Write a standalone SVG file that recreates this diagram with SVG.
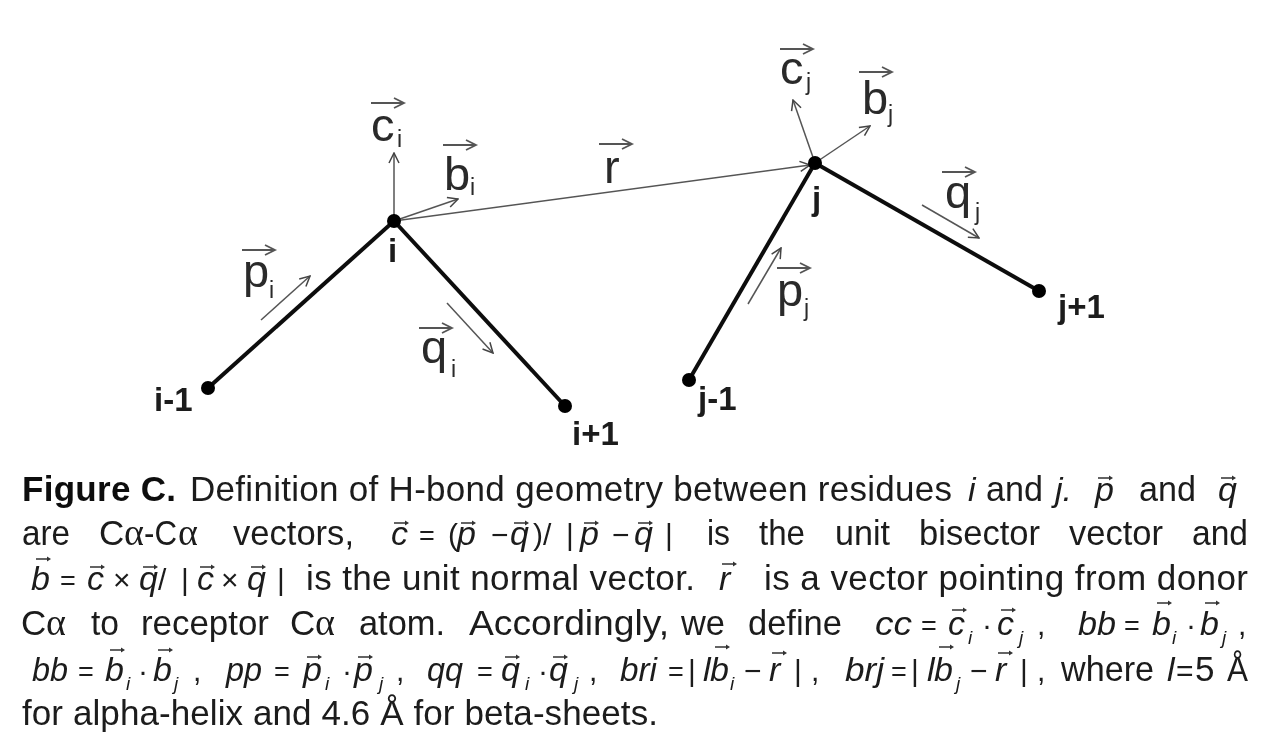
<svg xmlns="http://www.w3.org/2000/svg" xmlns:xlink="http://www.w3.org/1999/xlink" width="1267" height="754" viewBox="0 0 1267 754">
<style>
text{font-family:"Liberation Sans",Arial,sans-serif;fill:#1a1a1a}
.n{font-size:33px;font-weight:700}
.v{font-size:47px;fill:#2a2a2a}
.vs{font-size:23px;fill:#2a2a2a}
.c{font-size:35px}
.b{font-size:35px;font-weight:700;fill:#111}
.m{font-size:34px;font-style:italic}
.e{font-size:27px}
.d{font-size:30px}
.u{font-size:19px;font-style:italic}
.g{font-family:"Liberation Serif",serif;font-size:38px}
.bond{stroke:#111;stroke-width:4;fill:none}
.arr{stroke:#555;stroke-width:1.5;fill:none;marker-end:url(#h)}
.over{stroke:#555;stroke-width:1.8;fill:none}
.dot{fill:#000}
</style>
<defs>
<marker id="h" viewBox="-11 -6 12 12" markerWidth="12" markerHeight="12" refX="0" refY="0" orient="auto" markerUnits="userSpaceOnUse"><path d="M-10 -5L0 0L-10 5" fill="none" stroke="#444" stroke-width="1.5"/></marker>
<path id="ov" class="over" d="M0 0H33M23 -5L33 0L23 5"/>
<path id="sv" d="M0 -.7H11V-2.6L15 0L11 2.6V.7H0Z" fill="#333"/>
<filter id="soft" x="0" y="0" width="100%" height="100%"><feGaussianBlur stdDeviation="0.5"/></filter>
</defs>
<rect width="1267" height="754" fill="#fff"/>
<g filter="url(#soft)">
<g id="connectors">
<path class="bond" d="M208 388L394 221L565 406"/>
<path class="bond" d="M689 380L815 163L1039 291"/>
<path class="arr" d="M394 221V153"/>
<path class="arr" d="M394 221L458 199"/>
<path class="arr" d="M394 221L810 165"/>
<path class="arr" d="M261 320L310 276"/>
<path class="arr" d="M447 303L493 353"/>
<path class="arr" d="M815 163L793 100"/>
<path class="arr" d="M815 163L870 126"/>
<path class="arr" d="M748 304L781 248"/>
<path class="arr" d="M922 205L979 238"/>
</g>
<g id="node-i-1"><circle class="dot" cx="208" cy="388" r="7"/><text class="n" x="154" y="411">i-1</text></g>
<g id="node-i"><circle class="dot" cx="394" cy="221" r="7"/><text class="n" x="388" y="262">i</text></g>
<g id="node-i+1"><circle class="dot" cx="565" cy="406" r="7"/><text class="n" x="572" y="445">i+1</text></g>
<g id="node-j-1"><circle class="dot" cx="689" cy="380" r="7"/><text class="n" x="698" y="410">j-1</text></g>
<g id="node-j"><circle class="dot" cx="815" cy="163" r="7"/><text class="n" x="812" y="210">j</text></g>
<g id="node-j+1"><circle class="dot" cx="1039" cy="291" r="7"/><text class="n" x="1058" y="318">j+1</text></g>
<g id="vector-labels">
<use href="#ov" x="371" y="103"/><text class="v" x="371" y="141">c</text><text class="vs" x="397" y="147">i</text>
<use href="#ov" x="443" y="145"/><text class="v" x="444" y="190">b</text><text class="vs" x="470" y="195">i</text>
<use href="#ov" x="599" y="144"/><text class="v" x="604" y="183">r</text>
<use href="#ov" x="242" y="250"/><text class="v" x="243" y="287">p</text><text class="vs" x="269" y="298">i</text>
<use href="#ov" x="419" y="328"/><text class="v" x="421" y="363">q</text><text class="vs" x="451" y="377">i</text>
<use href="#ov" x="780" y="49"/><text class="v" x="780" y="84">c</text><text class="vs" x="806" y="90">j</text>
<use href="#ov" x="859" y="72"/><text class="v" x="862" y="114">b</text><text class="vs" x="888" y="122">j</text>
<use href="#ov" x="942" y="172"/><text class="v" x="945" y="208">q</text><text class="vs" x="975" y="220">j</text>
<use href="#ov" x="777" y="268"/><text class="v" x="777" y="306">p</text><text class="vs" x="804" y="316">j</text>
</g>
<g id="caption">
<!-- line 1 -->
<text class="b" x="22" y="501" textLength="154" lengthAdjust="spacing">Figure C.</text>
<text class="c" x="190" y="501" textLength="762" lengthAdjust="spacing">Definition of H-bond geometry between residues</text>
<text class="m" x="968" y="501">i</text>
<text class="c" x="986" y="501" textLength="57" lengthAdjust="spacingAndGlyphs">and</text>
<text class="m" x="1055" y="501">j.</text>
<use href="#sv" x="1098" y="478"/><text class="m" x="1095" y="501">p</text>
<text class="c" x="1139" y="501" textLength="57" lengthAdjust="spacingAndGlyphs">and</text>
<use href="#sv" x="1221" y="478"/><text class="m" x="1218" y="501">q</text>
<!-- line 2 -->
<text class="c" x="22" y="545" textLength="48" lengthAdjust="spacingAndGlyphs">are</text>
<text class="c" x="99" y="545">C</text><text class="g" x="124" y="545">α</text><text class="c" x="144" y="545" textLength="33" lengthAdjust="spacingAndGlyphs">-C</text><text class="g" x="178" y="545">α</text>
<text class="c" x="233" y="545" textLength="121" lengthAdjust="spacingAndGlyphs">vectors,</text>
<use href="#sv" x="394" y="523"/><text class="m" x="391" y="545">c</text><text class="e" x="419" y="545">=</text><text class="d" x="448" y="545">(</text>
<use href="#sv" x="461" y="523"/><text class="m" x="457" y="545">p</text><text class="d" x="491" y="545">−</text>
<use href="#sv" x="514" y="523"/><text class="m" x="510" y="545">q</text><text class="d" x="533" y="545">)/</text><text class="d" x="566" y="545">|</text>
<use href="#sv" x="584" y="523"/><text class="m" x="580" y="545">p</text><text class="d" x="612" y="545">−</text>
<use href="#sv" x="638" y="523"/><text class="m" x="634" y="545">q</text><text class="d" x="665" y="545">|</text>
<text class="c" x="707" y="545" textLength="23" lengthAdjust="spacingAndGlyphs">is</text>
<text class="c" x="759" y="545" textLength="46" lengthAdjust="spacingAndGlyphs">the</text>
<text class="c" x="835" y="545" textLength="55" lengthAdjust="spacingAndGlyphs">unit</text>
<text class="c" x="919" y="545" textLength="121" lengthAdjust="spacingAndGlyphs">bisector</text>
<text class="c" x="1069" y="545" textLength="94" lengthAdjust="spacingAndGlyphs">vector</text>
<text class="c" x="1192" y="545" textLength="56" lengthAdjust="spacingAndGlyphs">and</text>
<!-- line 3 -->
<use href="#sv" x="36" y="559"/><text class="m" x="31" y="590">b</text><text class="e" x="60" y="590">=</text>
<use href="#sv" x="90" y="567"/><text class="m" x="87" y="590">c</text><text class="d" x="113" y="590">×</text>
<use href="#sv" x="143" y="567"/><text class="m" x="139" y="590">q</text><text class="d" x="158" y="590">/</text><text class="d" x="181" y="590">|</text>
<use href="#sv" x="200" y="567"/><text class="m" x="197" y="590">c</text><text class="d" x="221" y="590">×</text>
<use href="#sv" x="251" y="567"/><text class="m" x="247" y="590">q</text><text class="d" x="277" y="590">|</text>
<text class="c" x="306" y="590" textLength="389" lengthAdjust="spacing">is the unit normal vector.</text>
<use href="#sv" x="722" y="564"/><text class="m" x="719" y="590">r</text>
<text class="c" x="764" y="590" textLength="484" lengthAdjust="spacing">is a vector pointing from donor</text>
<!-- line 4 -->
<text class="c" x="21" y="635">C</text><text class="g" x="46" y="635">α</text>
<text class="c" x="91" y="635" textLength="28" lengthAdjust="spacingAndGlyphs">to</text>
<text class="c" x="141" y="635" textLength="128" lengthAdjust="spacingAndGlyphs">receptor</text>
<text class="c" x="290" y="635">C</text><text class="g" x="315" y="635">α</text>
<text class="c" x="359" y="635" textLength="86" lengthAdjust="spacingAndGlyphs">atom.</text>
<text class="c" x="469" y="635" textLength="200" lengthAdjust="spacingAndGlyphs">Accordingly,</text>
<text class="c" x="681" y="635" textLength="44" lengthAdjust="spacingAndGlyphs">we</text>
<text class="c" x="748" y="635" textLength="94" lengthAdjust="spacingAndGlyphs">define</text>
<text class="m" x="875" y="635" textLength="37" lengthAdjust="spacingAndGlyphs">cc</text><text class="e" x="921" y="635">=</text>
<use href="#sv" x="952" y="610"/><text class="m" x="948" y="635">c</text><text class="u" x="968" y="644">i</text><text class="d" x="982" y="635">·</text>
<use href="#sv" x="1001" y="610"/><text class="m" x="997" y="635">c</text><text class="u" x="1019" y="644">j</text><text class="d" x="1037" y="635">,</text>
<text class="m" x="1078" y="635" textLength="38" lengthAdjust="spacingAndGlyphs">bb</text><text class="e" x="1124" y="635">=</text>
<use href="#sv" x="1157" y="603"/><text class="m" x="1152" y="635">b</text><text class="u" x="1172" y="644">i</text><text class="d" x="1186" y="635">·</text>
<use href="#sv" x="1205" y="603"/><text class="m" x="1200" y="635">b</text><text class="u" x="1222" y="644">j</text><text class="d" x="1238" y="635">,</text>
<!-- line 5 -->
<text class="m" x="32" y="681" textLength="36" lengthAdjust="spacingAndGlyphs">bb</text><text class="e" x="78" y="681">=</text>
<use href="#sv" x="110" y="650"/><text class="m" x="105" y="681">b</text><text class="u" x="126" y="690">i</text><text class="d" x="138" y="681">·</text>
<use href="#sv" x="158" y="650"/><text class="m" x="153" y="681">b</text><text class="u" x="174" y="690">j</text><text class="d" x="193" y="681">,</text>
<text class="m" x="226" y="681" textLength="36" lengthAdjust="spacingAndGlyphs">pp</text><text class="e" x="274" y="681">=</text>
<use href="#sv" x="307" y="657"/><text class="m" x="303" y="681">p</text><text class="u" x="325" y="690">i</text><text class="d" x="342" y="681">·</text>
<use href="#sv" x="358" y="657"/><text class="m" x="354" y="681">p</text><text class="u" x="379" y="690">j</text><text class="d" x="396" y="681">,</text>
<text class="m" x="427" y="681" textLength="36" lengthAdjust="spacingAndGlyphs">qq</text><text class="e" x="477" y="681">=</text>
<use href="#sv" x="505" y="657"/><text class="m" x="501" y="681">q</text><text class="u" x="525" y="690">i</text><text class="d" x="538" y="681">·</text>
<use href="#sv" x="553" y="657"/><text class="m" x="549" y="681">q</text><text class="u" x="574" y="690">j</text><text class="d" x="589" y="681">,</text>
<text class="m" x="620" y="681" textLength="37" lengthAdjust="spacingAndGlyphs">bri</text><text class="e" x="668" y="681">=</text><text class="d" x="688" y="681">|</text>
<text class="m" x="703" y="681">l</text><use href="#sv" x="715" y="647"/><text class="m" x="710" y="681">b</text><text class="u" x="730" y="690">i</text><text class="d" x="744" y="681">−</text>
<use href="#sv" x="772" y="653"/><text class="m" x="769" y="681">r</text><text class="d" x="794" y="681">|</text><text class="d" x="811" y="681">,</text>
<text class="m" x="845" y="681" textLength="39" lengthAdjust="spacingAndGlyphs">brj</text><text class="e" x="891" y="681">=</text><text class="d" x="911" y="681">|</text>
<text class="m" x="927" y="681">l</text><use href="#sv" x="939" y="647"/><text class="m" x="934" y="681">b</text><text class="u" x="956" y="690">j</text><text class="d" x="970" y="681">−</text>
<use href="#sv" x="998" y="653"/><text class="m" x="995" y="681">r</text><text class="d" x="1020" y="681">|</text><text class="d" x="1037" y="681">,</text>
<text class="c" x="1061" y="681" textLength="93" lengthAdjust="spacingAndGlyphs">where</text>
<text class="m" x="1167" y="681">l</text><text class="d" x="1176" y="681">=</text><text class="c" x="1195" y="681">5</text>
<text class="c" x="1227" y="681" textLength="21" lengthAdjust="spacingAndGlyphs">Å</text>
<!-- line 6 -->
<text class="c" x="22" y="725" textLength="636" lengthAdjust="spacing">for alpha-helix and 4.6 Å for beta-sheets.</text>
</g>
</g>
</svg>
